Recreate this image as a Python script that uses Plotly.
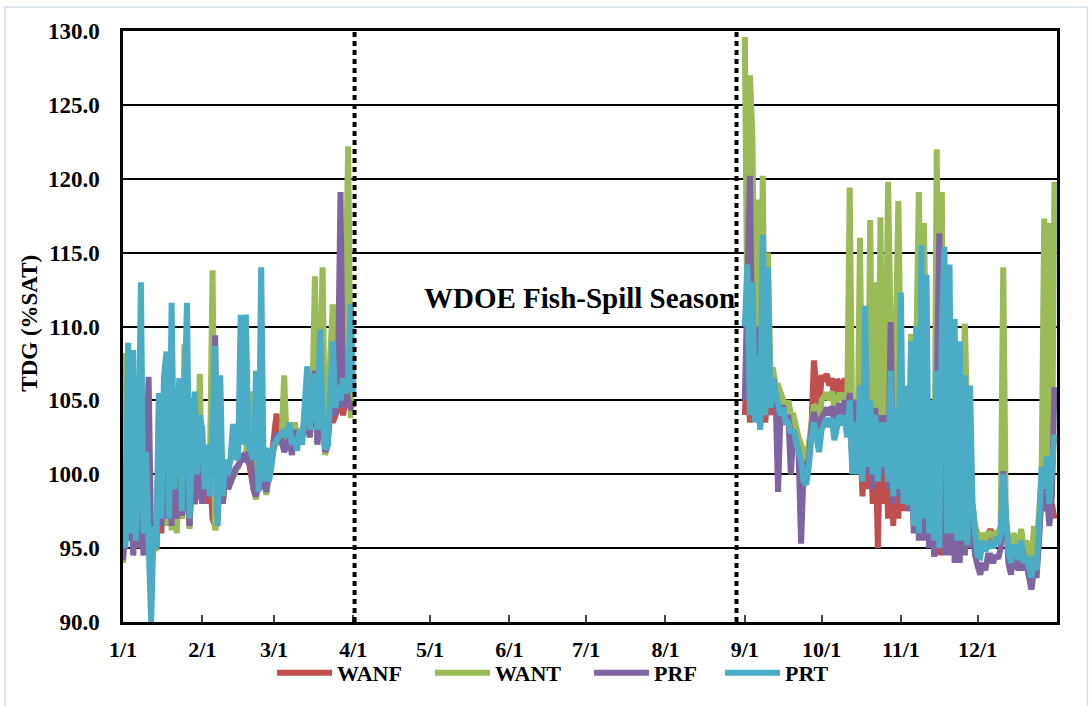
import pandas as pd
import plotly.graph_objects as go

# ---------------- data ----------------
month_ticks = ["2015-01-01", "2015-02-01", "2015-03-01", "2015-04-01", "2015-05-01", "2015-06-01",
               "2015-07-01", "2015-08-01", "2015-09-01", "2015-10-01", "2015-11-01", "2015-12-01"]
month_labels = ["1/1", "2/1", "3/1", "4/1", "5/1", "6/1", "7/1", "8/1", "9/1", "10/1", "11/1", "12/1"]

seg1_start = "2015-01-01"   # daily values Jan 1 .. Apr 1
seg2_start = "2015-09-01"   # daily values Sep 1 .. Dec 31

wanf_1 = [95, 100, 96, 100, 95, 99, 96, 98, 95, 99, 96, 95.5, 96, 95, 100, 96, 101, 97, 101, 97,
          102, 96.8, 98, 97, 101, 99, 96.5, 100, 98, 99, 101, 98, 100, 98, 100, 97, 96.5, 97.5, 100, 98,
          100, 99, 99.5, 100, 100.3, 100.5, 101, 101, 101, 101, 100, 99, 99.5, 100, 99, 100, 99, 100.5, 101, 103,
          104.1, 102, 102.5, 102.3, 102, 102.5, 102.2, 103.5, 102.5, 102.5, 103, 103, 103.5, 103, 104, 104, 103, 104.5, 104, 102,
          102.5, 104, 103.5, 104, 104.5, 105, 104, 105, 104.5, 105, 104.5]
want_1 = [94, 108.2, 97, 101, 95, 100, 96, 99, 95, 100, 96, 95, 95.8, 94.8, 104, 96.5, 103, 96.5, 102, 96.2,
          104, 96, 100, 97, 108.8, 100, 96.3, 102, 98.5, 100, 106.8, 98, 100, 98.7, 101, 113.8, 96.2, 97, 101, 98,
          100.5, 99, 99.5, 100, 100.2, 100.6, 101, 101.2, 101, 104.5, 105.6, 99, 98.3, 100, 99, 101, 98.6, 100.5, 101, 102,
          102.5, 102, 102.5, 106.7, 101.8, 102.5, 102, 103.5, 102.2, 102.5, 102.8, 103.5, 104, 102.5, 105, 113.4, 102, 106.5, 114, 101.3,
          102, 108, 111.5, 105, 109, 110, 106, 112.3, 122.2, 104, 104]
prf_1 = [94.2, 96, 95.5, 100, 94.5, 99, 95, 98, 94.5, 99.5, 106.6, 95.5, 96, 95, 101, 96.5, 102, 97, 101, 96.5,
         103, 97, 99, 97.2, 102, 99.5, 96.5, 101, 98, 99, 102, 98, 100.5, 98.5, 100.5, 100, 109.4, 97, 101, 98,
         100, 99, 99.5, 100, 100.4, 100.6, 101, 101.2, 101, 101.5, 101, 99, 98.5, 100, 99, 100, 98.8, 100.3, 101, 102,
         102.8, 102.3, 102.3, 101.5, 102, 102.5, 101.3, 103, 102, 102.5, 102.5, 103.3, 103.8, 102.5, 104.5, 107, 102, 105, 103.5, 101.5,
         102, 104.5, 105, 104, 106.5, 119.1, 104.5, 106, 105, 104.5, 104.5]
prt_1 = [101, 95, 108.9, 96, 108.4, 95.5, 100, 113, 96, 101.5, 95.5, 90, 96.5, 95, 105.5, 97, 106.6, 108.3, 97, 111.6,
         99, 104, 106.5, 97.5, 107, 111.6, 97, 102, 105.6, 100, 104, 103, 99, 102, 98.5, 103, 108.7, 96.5, 106.7, 98.5,
         101, 100, 101, 103.4, 101, 101.2, 110.8, 102, 110.8, 102, 101.5, 101, 107, 98.8, 114, 99.5, 101.8, 99.5, 100.5, 102,
         102.3, 102.5, 102.7, 103, 102.5, 103.5, 102, 102.5, 101.6, 103, 102, 104.7, 107.3, 103, 104.5, 106.8, 103, 109.8, 104, 101.7,
         102, 105, 109, 104.5, 106, 105, 106.5, 105.5, 106, 111.5, 105.5]

wanf_2 = [104, 108, 103.5, 106, 104, 105, 103.2, 106, 103.5, 106, 104, 106.5, 105, 105.5, 104, 104.5, 103.5, 104, 103, 103.5,
          102.5, 102, 101.5, 101, 100.5, 101.5, 103, 107.7, 106, 104, 106.7, 106.3, 106.8, 106, 106.5, 105, 106.4, 106.2, 105.5, 106.5,
          103, 104, 101, 104, 100.5, 103, 98.5, 104, 99, 102.5, 98, 103, 95, 103, 98, 102.5, 97, 104, 96.5, 103,
          97, 104, 97.5, 103, 97.5, 104, 96.5, 105, 96, 105, 96.5, 104, 95.5, 103, 94.5, 104, 94.5, 104, 95, 103,
          95, 104, 95, 103, 95, 103, 95.5, 102, 95.5, 97, 95.5, 95, 95, 95.5, 95, 95.5, 96.3, 95.5, 95.8, 95.5,
          96, 97, 96, 95, 94.5, 95.5, 95, 94.5, 95.5, 94.5, 95, 94, 93.5, 95, 94, 96, 99, 98, 99.5, 97,
          98, 97]
want_2 = [129.6, 110, 127, 122.7, 105, 118.6, 104, 120.2, 105, 115, 107, 107.2, 106, 106, 105.5, 105, 104.5, 105, 104, 104,
          103, 102.5, 102, 101.5, 101, 102, 103.5, 104.7, 104.5, 103.5, 105, 105.3, 105.5, 105, 105.6, 104.5, 105.2, 105.5, 105, 105.5,
          104, 119.4, 102, 105, 101, 116, 101, 106, 100.5, 117.2, 100, 113, 100, 117.4, 101, 105, 119.8, 106, 99, 109,
          118.5, 106, 99, 104, 98.5, 109.5, 98, 108, 119.1, 107, 117, 106, 97, 104, 95.5, 122, 96, 119.1, 96.5, 105,
          96, 106, 96, 104, 96, 104, 110.2, 103, 96.5, 98, 96.5, 96, 95.5, 96, 95.5, 96, 96, 95.8, 96, 96,
          96.5, 114, 97, 95.5, 95, 96, 95.5, 95, 96.3, 95, 95.5, 94.5, 94, 96.5, 95, 97.5, 100, 117.3, 100, 117,
          99, 119.8]
prf_2 = [105, 112, 120.2, 106, 104.5, 110, 104, 108, 104, 107, 105.5, 106.5, 105.5, 98.8, 104.5, 104.5, 103.5, 104, 100, 103,
         102, 101.5, 95.3, 100.5, 100, 101, 103, 104.2, 103.5, 102.5, 103.8, 104.2, 104.5, 104, 104.6, 103.6, 104.3, 104.8, 104, 105,
         103.5, 105.5, 101.5, 105, 101, 104, 100, 105, 100, 104.5, 99, 104.5, 99.5, 104, 100, 104, 99, 110.3, 98, 104.5,
         98.5, 106, 98, 104, 97.5, 106, 96, 108, 95.5, 107, 95.5, 106, 95, 104, 94.4, 106, 116.3, 107, 94.5, 105,
         94.5, 106, 94, 104, 94, 105, 94.5, 103.5, 95, 96.5, 94.5, 93.8, 93.2, 94, 93.5, 94.5, 94.5, 94, 94.5, 94.3,
         95, 100.2, 96, 94, 93.2, 94.5, 94, 93.5, 94.5, 93.5, 94, 92.8, 92.2, 93.5, 93, 95.5, 99, 97.5, 99, 96.5,
         98.5, 105.9]
prt_2 = [110, 114.2, 104, 113, 103.5, 108, 103, 116.2, 104, 114, 104.5, 106.5, 105.5, 104.5, 104, 104.5, 103.5, 103.5, 102.8, 103,
         102, 101.5, 101, 99.5, 99.3, 100.5, 102.5, 103.5, 102.5, 101.5, 103, 103.5, 103.8, 103.2, 103.8, 102.3, 103.5, 104, 103.3, 104,
         102.5, 105, 100, 103.5, 100, 106, 99.5, 111.4, 100.5, 105, 100, 104, 99.5, 103.5, 100.5, 103.5, 99.5, 107, 98.5, 104.5,
         99, 112.3, 98, 106, 97.9, 109, 96.5, 110, 96, 115.5, 97, 113.5, 96, 105, 95.5, 107, 95, 110, 115.4, 96,
         114.2, 96, 110.5, 95.5, 109, 95.5, 106.7, 95.2, 106, 98, 96, 94.5, 94.4, 95.5, 94.8, 95.3, 95.5, 95, 95.5, 95.3,
         96, 100, 96.5, 94.8, 94, 95.2, 95, 94.2, 95.5, 94, 94.5, 93.5, 93, 94.5, 93.5, 96.5, 100.5, 99, 101.2, 98,
         100, 102.7]

series = [("WANF", wanf_1, wanf_2, "#C0504D"),
          ("WANT", want_1, want_2, "#9BBB59"),
          ("PRF", prf_1, prf_2, "#8064A2"),
          ("PRT", prt_1, prt_2, "#4BACC6")]

# ---------------- figure ----------------
FONT = "Liberation Serif"
LEGEND_FONT = dict(family=FONT, size=22, color="black", weight="bold")
legend_ids = ["legend", "legend2", "legend3", "legend4"]
legend_x = [0.1596, 0.3287, 0.4990, 0.6392]

fig = go.Figure()
for (name, s1, s2, col), lid in zip(series, legend_ids):
    d1 = list(pd.date_range(seg1_start, periods=len(s1), freq="D"))
    d2 = list(pd.date_range(seg2_start, periods=len(s2), freq="D"))
    fig.add_trace(go.Scatter(
        x=d1 + [None] + d2, y=list(s1) + [None] + list(s2),
        mode="lines", name=name, connectgaps=False, legend=lid,
        line=dict(color=col, width=6, shape="linear"),
    ))

# season boundary markers
for xd in ["2015-04-01 12:00", "2015-08-28 18:00"]:
    fig.add_shape(type="line", xref="x", yref="paper", x0=xd, x1=xd, y0=0, y1=1,
                  line=dict(color="black", width=4, dash="5px,4px"), layer="above")

# light outer chart border
fig.add_shape(type="rect", xref="paper", yref="paper",
              x0=-0.1263, x1=1.0325, y0=-0.17, y1=1.0405,
              line=dict(color="#D5DEE8", width=1.5), layer="below")

fig.add_annotation(x="2015-06-28 12:00", y=111.9, xref="x", yref="y",
                   text="WDOE Fish-Spill Season", showarrow=False,
                   font=dict(family=FONT, size=29, color="black", weight="bold"))

fig.add_annotation(x=-0.1005, y=0.505, xref="paper", yref="paper", textangle=-90,
                   xanchor="center", yanchor="middle",
                   text="TDG (%SAT)", showarrow=False,
                   font=dict(family=FONT, size=23, color="black", weight="bold"))

legend_common = dict(orientation="h", xanchor="left", y=-0.086, yanchor="middle",
                     font=LEGEND_FONT, bgcolor="rgba(0,0,0,0)", itemwidth=55)

fig.update_layout(
    width=1089, height=706,
    margin=dict(l=123, r=32, t=31, b=82),
    paper_bgcolor="white", plot_bgcolor="white",
    font=dict(family=FONT, color="black"),
    showlegend=True,
    legend=dict(x=legend_x[0], **legend_common),
    legend2=dict(x=legend_x[1], **legend_common),
    legend3=dict(x=legend_x[2], **legend_common),
    legend4=dict(x=legend_x[3], **legend_common),
    xaxis=dict(type="date", range=["2015-01-01", "2016-01-01"],
               tickvals=month_ticks, ticktext=month_labels,
               ticks="inside", ticklen=7, tickwidth=1.5, tickcolor="#444444",
               showgrid=False, zeroline=False,
               showline=True, linecolor="black", linewidth=2.5, mirror=True,
               tickfont=dict(family=FONT, size=22, color="black", weight="bold"),
               ticklabelstandoff=6, automargin=False),
    yaxis=dict(range=[90, 130], dtick=5, tick0=90, tickformat=".1f",
               ticks="", showgrid=True, gridcolor="black", gridwidth=1.5,
               zeroline=False,
               showline=True, linecolor="black", linewidth=2.5, mirror=True,
               tickfont=dict(family=FONT, size=23, color="black", weight="bold"),
               ticklabelstandoff=16, automargin=False),
)

fig.write_html("out.html", config={"displayModeBar": False},
               post_script="document.body.style.margin='0px';")
